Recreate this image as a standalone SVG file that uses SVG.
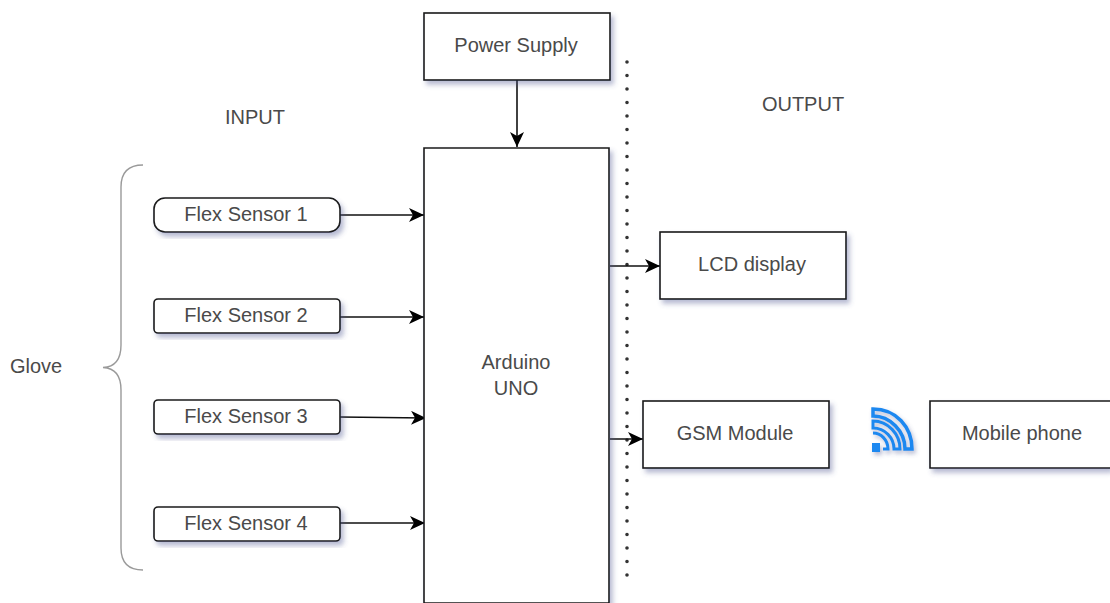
<svg xmlns="http://www.w3.org/2000/svg" width="1110" height="603" viewBox="0 0 1110 603">
<defs>
<marker id="arrow" markerUnits="userSpaceOnUse" markerWidth="16" markerHeight="14" refX="15" refY="7" orient="auto"><path d="M0 0 L15 7 L0 14 L4 7 Z" fill="#000"/></marker>
<filter id="shadow" x="-10%" y="-10%" width="125%" height="130%"><feDropShadow dx="3" dy="4" stdDeviation="2.5" flood-color="#4a5590" flood-opacity="0.4"/></filter>
<filter id="ishadow" x="-30%" y="-30%" width="170%" height="170%"><feDropShadow dx="2" dy="3" stdDeviation="2" flood-color="#4a5590" flood-opacity="0.4"/></filter>
</defs>
<style>
.box{fill:#fff;stroke:#1a1a1a;stroke-width:1.6;filter:url(#shadow)}
.t{font-family:"Liberation Sans",Arial,sans-serif;font-size:20px;fill:#4a4a4a;text-anchor:middle}
.c{fill:none;stroke:#111;stroke-width:1.6;marker-end:url(#arrow)}
</style>
<rect width="1110" height="603" fill="#fff"/>
<text class="t" x="255" y="124">INPUT</text>
<text class="t" x="803" y="111">OUTPUT</text>
<text class="t" x="36" y="373">Glove</text>
<path id="brace" d="M143 165 C128 165 121 172 121 187 L121 345 C121 360 114 367 103 367.500 C114 368 121 375 121 390 L121 548 C121 563 128 570 143 570" fill="none" stroke="#9a9a9a" stroke-width="1.400"/>
<line id="divider" x1="627" y1="62" x2="627" y2="580" stroke="#333" stroke-width="3.600" stroke-linecap="round" stroke-dasharray="0 13.500"/>
<g id="connectors">
<path class="c" d="M517 80 V147"/>
<path class="c" d="M340 215 H424"/>
<path class="c" d="M340 317 H424"/>
<path class="c" d="M340 417 L426 418"/>
<path class="c" d="M340 523 H425"/>
<path class="c" d="M610 266 H660"/>
<path class="c" d="M610 439 H643"/>
</g>
<g id="power-supply"><rect class="box" x="424" y="13" width="186" height="67"/><text class="t" x="516" y="52">Power Supply</text></g>
<g id="arduino-uno"><path class="box" d="M424 148 H609 V603 H424 Z"/><text class="t" x="516" y="369">Arduino</text><text class="t" x="516" y="395">UNO</text></g>
<g id="flex-sensor-1"><rect class="box" x="154" y="198" width="186" height="34" rx="11"/><text class="t" x="246" y="221">Flex Sensor 1</text></g>
<g id="flex-sensor-2"><rect class="box" x="154" y="299" width="186" height="34" rx="4"/><text class="t" x="246" y="322">Flex Sensor 2</text></g>
<g id="flex-sensor-3"><rect class="box" x="154" y="400" width="186" height="34" rx="4"/><text class="t" x="246" y="423">Flex Sensor 3</text></g>
<g id="flex-sensor-4"><rect class="box" x="154" y="507" width="186" height="34" rx="4"/><text class="t" x="246" y="530">Flex Sensor 4</text></g>
<g id="lcd-display"><rect class="box" x="660" y="232" width="186" height="67"/><text class="t" x="752" y="271">LCD display</text></g>
<g id="gsm-module"><rect class="box" x="643" y="401" width="186" height="67"/><text class="t" x="735" y="440">GSM Module</text></g>
<g id="mobile-phone"><path class="box" d="M1110 401 H930 V468 H1110"/><text class="t" x="1022" y="440">Mobile phone</text></g>
<g id="wifi-icon" filter="url(#ishadow)" fill="none" stroke="#1e88f0">
<rect x="872" y="443" width="8" height="9" fill="#1e88f0" stroke="none"/>
<path stroke-width="3.500" d="M873 409 C896 409 912 427 912 449 H905 C905 431 890 416 873 416 Z"/>
<path stroke-width="3" d="M873 421 C888 421 900 434 900 449 H894 C894 438 885 428 873 428 Z"/>
<path stroke-width="3" d="M873 433 C881 433 888 440 888 449 H883"/>
</g>
</svg>
